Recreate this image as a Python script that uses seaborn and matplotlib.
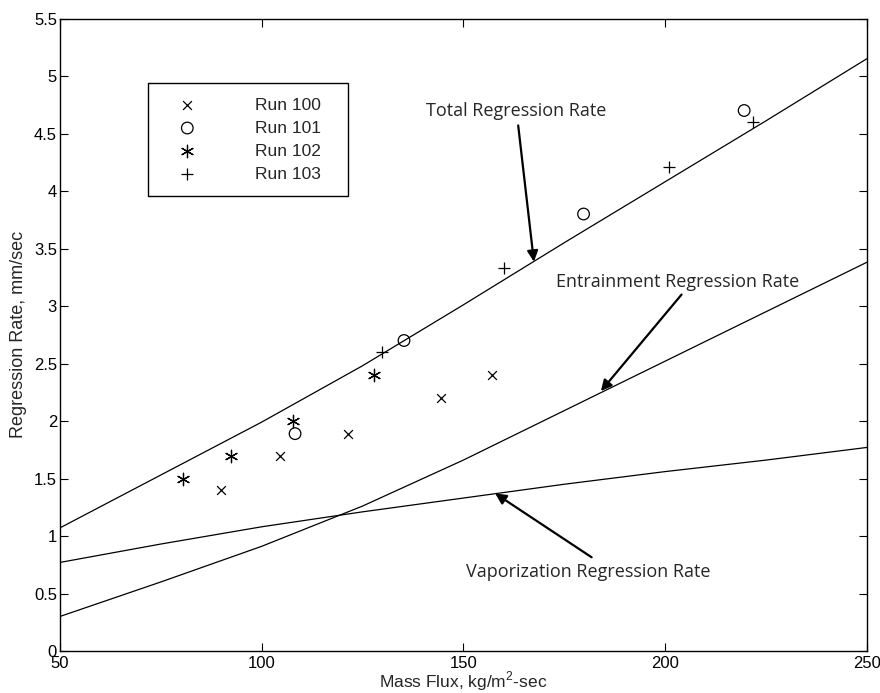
import matplotlib
matplotlib.use("Agg")
import matplotlib.pyplot as plt
import seaborn as sns
import pandas as pd
from matplotlib.ticker import FuncFormatter

# ---- data ----
curve_flux = [50, 75, 100, 125, 150, 175, 200, 225, 250]
total_rate = [1.07, 1.53, 1.99, 2.48, 3.01, 3.55, 4.08, 4.61, 5.15]
entrain_rate = [0.30, 0.60, 0.91, 1.26, 1.66, 2.09, 2.52, 2.95, 3.38]
vapor_rate = [0.77, 0.93, 1.08, 1.21, 1.33, 1.45, 1.56, 1.66, 1.77]

run100_flux = [90, 104.5, 121.5, 144.5, 157]
run100_rate = [1.40, 1.70, 1.89, 2.20, 2.40]
run101_flux = [108.3, 135.3, 179.8, 219.6]
run101_rate = [1.89, 2.70, 3.80, 4.70]
run102_flux = [80.6, 92.3, 107.9, 127.9]
run102_rate = [1.50, 1.70, 2.00, 2.40]
run103_flux = [129.9, 160.1, 201.1, 221.7]
run103_rate = [2.60, 3.33, 4.21, 4.60]

run_labels = ["Run 100", "Run 101", "Run 102", "Run 103"]
x_ticks = [50, 100, 150, 200, 250]
y_ticks = [0, 0.5, 1, 1.5, 2, 2.5, 3, 3.5, 4, 4.5, 5, 5.5]

sns.set_style("ticks")
plt.rcParams["font.family"] = ["Liberation Sans", "DejaVu Sans"]
plt.rcParams["mathtext.fontset"] = "custom"
plt.rcParams["mathtext.rm"] = "Liberation Sans"

fig = plt.figure(figsize=(8.8, 6.93), dpi=100)
ax = fig.add_axes([0.068, 0.0606, 0.917, 0.9127])

curves = pd.DataFrame({"flux": curve_flux, "total": total_rate,
                       "entrain": entrain_rate, "vapor": vapor_rate})
for col in ["total", "entrain", "vapor"]:
    sns.lineplot(data=curves, x="flux", y=col, ax=ax, color="k", lw=0.9)

sns.scatterplot(x=run100_flux, y=run100_rate, ax=ax, marker="x", color="k",
                s=40, linewidth=0.9, label=run_labels[0])
sns.scatterplot(x=run101_flux, y=run101_rate, ax=ax, marker="o",
                facecolor="none", edgecolor="k", s=70, linewidth=0.9,
                label=run_labels[1])
sns.scatterplot(x=run102_flux, y=run102_rate, ax=ax, marker=(6, 2, 0),
                color="k", s=80, linewidth=0.9, label=run_labels[2])
sns.scatterplot(x=run103_flux, y=run103_rate, ax=ax, marker="+", color="k",
                s=80, linewidth=0.9, label=run_labels[3])

ax.set_xlim(50, 250)
ax.set_ylim(0, 5.5)
ax.set_xticks(x_ticks)
ax.set_yticks(y_ticks)
ax.yaxis.set_major_formatter(FuncFormatter(lambda v, p: f"{v:g}"))
ax.tick_params(direction="in", length=6, width=0.8, top=True, right=True,
               labelsize=12, colors="k")
ax.tick_params(axis="x", pad=3.5)
ax.tick_params(axis="y", pad=2)
for sp in ax.spines.values():
    sp.set_visible(True)
    sp.set_linewidth(1.0)
    sp.set_color("k")

ax.set_xlabel(r"Mass Flux, kg/m$^2$-sec", fontsize=12.5, labelpad=-1)
ax.set_ylabel("Regression Rate, mm/sec", fontsize=13, labelpad=5)

leg = ax.legend(loc="upper left", bbox_to_anchor=(0.109, 0.8985, 0.248, 0.0),
                mode="expand", fontsize=12.5, frameon=True, fancybox=False,
                edgecolor="k", framealpha=1, borderpad=0.85,
                handlelength=2.85, handletextpad=2.5, labelspacing=0.45,
                borderaxespad=0)
leg.get_frame().set_linewidth(1.0)

ann_font = ["Open Sans", "DejaVu Sans"]
arrow = dict(arrowstyle="-|>", color="k", lw=1.6, mutation_scale=16,
             shrinkA=0, shrinkB=0)
ax.annotate("", xy=(167.5, 3.385), xytext=(163.6, 4.57), arrowprops=arrow)
ax.text(163.2, 4.70, "Total Regression Rate", ha="center", va="center",
        fontsize=13, family=ann_font)
ax.annotate("", xy=(184.1, 2.26), xytext=(204.1, 3.10), arrowprops=arrow)
ax.text(203.1, 3.21, "Entrainment Regression Rate", ha="center", va="center",
        fontsize=13, family=ann_font)
ax.annotate("", xy=(157.9, 1.37), xytext=(181.8, 0.815), arrowprops=arrow)
ax.text(180.9, 0.69, "Vaporization Regression Rate", ha="center", va="center",
        fontsize=13, family=ann_font)

fig.savefig("out.png", dpi=100)
